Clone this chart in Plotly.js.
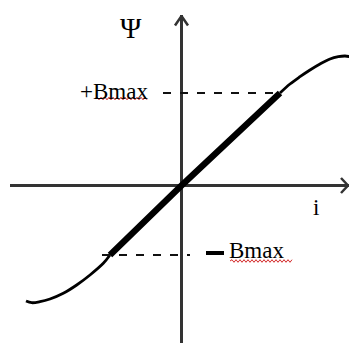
<!DOCTYPE html>
<html>
<head>
<meta charset="utf-8">
<script src="https://cdn.plot.ly/plotly-3.0.1.min.js"></script>
<style>
  html, body { margin: 0; padding: 0; background: #fff; }
  #chart { width: 350px; height: 343px; }
</style>
</head>
<body>
<div id="chart"></div>
<script>
// magnetisation curve, units roughly px from the origin
const lowerI   = [-155.5, -149.8, -141.5, -131.5, -118.2, -104.8, -91.5, -78.2, -71.5];
const lowerPsi = [-115.5, -117.2, -116.2, -113.5, -107.8,  -99.5, -89.5, -77.8, -69.5];

const linearI   = [-71.5, 0, 98.5];
const linearPsi = [-69.5, 0, 92.5];

const upperI   = [98.5, 108.5, 118.5, 128.5, 138.5, 148.5, 156.8, 163.5, 168.5];
const upperPsi = [92.5, 101.5, 108.8, 115.5, 121.5, 126.5, 128.8, 129.5, 128.8];

const bMaxPos = 92.5;
const bMaxNeg = -69.5;
const bMaxPosI = [-18.5, 98.5];
const bMaxNegI = [-79.5, 8.5];

const serif = 'Liberation Serif, Times New Roman, serif';

var thin = {
    x: lowerI, y: lowerPsi,
    type: 'scatter', mode: 'lines',
    line: {color: '#000', width: 2.8, shape: 'spline'},
    hoverinfo: 'skip'
};
var thin2 = {
    x: upperI, y: upperPsi,
    type: 'scatter', mode: 'lines',
    line: {color: '#000', width: 2.8, shape: 'spline'},
    hoverinfo: 'skip'
};
var thick = {
    x: linearI, y: linearPsi,
    type: 'scatter', mode: 'lines',
    line: {color: '#000', width: 6.5},
    hoverinfo: 'skip'
};
var dashPos = {
    x: bMaxPosI, y: [bMaxPos, bMaxPos],
    type: 'scatter', mode: 'lines',
    line: {color: '#111', width: 2.2, dash: '8px,9px'},
    hoverinfo: 'skip'
};
var dashNeg = {
    x: bMaxNegI, y: [bMaxNeg, bMaxNeg],
    type: 'scatter', mode: 'lines',
    line: {color: '#111', width: 2.2, dash: '8px,9px'},
    hoverinfo: 'skip'
};

// red spell-check squiggle under a word
function squiggle(x0, x1, y) {
    let p = 'M' + x0 + ',' + y;
    let up = true;
    for (let x = x0 + 2; x <= x1; x += 2) {
        p += ' L' + x + ',' + (y + (up ? 1.3 : -1.3));
        up = !up;
    }
    return {type: 'path', xref: 'x', yref: 'y', path: p,
            line: {color: '#d42a2a', width: 1}};
}

var layout = {
    width: 350,
    height: 343,
    margin: {l: 10, r: 1, t: 15, b: 0, pad: 0},
    showlegend: false,
    paper_bgcolor: '#fff',
    plot_bgcolor: '#fff',
    xaxis: {
        range: [-171.5, 167.5],
        showgrid: false, showticklabels: false, ticks: '',
        zeroline: true, zerolinecolor: '#333', zerolinewidth: 2.5,
        fixedrange: true
    },
    yaxis: {
        range: [-157.5, 170.5],
        showgrid: false, showticklabels: false, ticks: '',
        zeroline: true, zerolinecolor: '#333', zerolinewidth: 2.5,
        fixedrange: true
    },
    shapes: [
        // arrow heads
        {type: 'path', xref: 'x', yref: 'y', path: 'M-6.5,160 L0,169.5 L6.5,160',
         line: {color: '#333', width: 2.5}},
        {type: 'path', xref: 'x', yref: 'y', path: 'M159.5,7.5 L166.5,0 L159.5,-7.5',
         line: {color: '#333', width: 2.5}},
        // minus sign of -Bmax
        {type: 'line', xref: 'x', yref: 'y', x0: 24.5, x1: 42.5, y0: -67.5, y1: -67.5,
         line: {color: '#000', width: 4}},
        squiggle(-86.5, -34.5, 87),
        squiggle(48.5, 110.5, -75.5)
    ],
    annotations: [
        {x: -50.5, y: 158, xref: 'x', yref: 'y', text: 'Ψ', showarrow: false,
         xanchor: 'center', yanchor: 'middle', font: {family: serif, size: 29, color: '#000'}},
        {x: -31.5, y: 94, xref: 'x', yref: 'y', text: '+Bmax', showarrow: false,
         xanchor: 'right', yanchor: 'middle', font: {family: serif, size: 23, color: '#000'}},
        {x: 45.5, y: -65, xref: 'x', yref: 'y', text: 'Bmax', showarrow: false,
         xanchor: 'left', yanchor: 'middle', font: {family: serif, size: 23, color: '#000'}},
        {x: 134.5, y: -21.5, xref: 'x', yref: 'y', text: 'i', showarrow: false,
         xanchor: 'center', yanchor: 'middle', font: {family: serif, size: 23, color: '#000'}}
    ]
};

Plotly.newPlot('chart', [thin, thin2, thick, dashPos, dashNeg], layout, {displayModeBar: false, staticPlot: true});
</script>
</body>
</html>
